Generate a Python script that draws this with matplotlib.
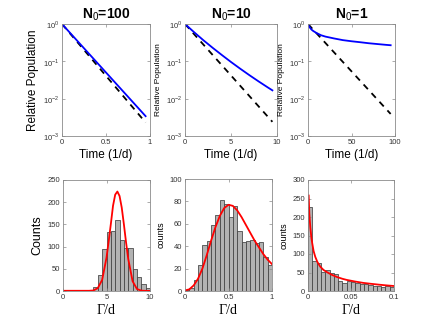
import numpy as np
import matplotlib
matplotlib.use("Agg")
import matplotlib.pyplot as plt

plt.rcParams['font.family'] = ['Liberation Sans', 'DejaVu Sans']
plt.rcParams['mathtext.fontset'] = 'custom'
plt.rcParams['mathtext.rm'] = 'Liberation Sans'
plt.rcParams['mathtext.bf'] = 'Liberation Sans:bold'

# ---------------- data ----------------
titles = ["N$_0$=100", "N$_0$=10", "N$_0$=1"]

# top row: relative population vs time
tl_t_blue = [0, 0.95]
tl_blue = [1.0, 3.4e-3]
tl_t_dash = [0, 0.95]
tl_dash = [1.0, 2.3e-3]

tm_t_blue = [0, 1, 2, 3, 4, 5, 6, 7, 8, 9, 9.5]
tm_blue = [1.0, 0.60, 0.367, 0.231, 0.148, 0.096, 0.0635, 0.0426, 0.029, 0.020, 0.0167]
tm_t_dash = [0, 9.5]
tm_dash = [1.0, 2.4e-3]

tr_t_blue = [0, 1, 2, 4, 6, 10, 15, 20, 30, 40, 50, 60, 70, 80, 90, 95]
tr_blue = [1.0, 0.88, 0.81, 0.71, 0.65, 0.57, 0.50, 0.46, 0.41, 0.37, 0.345, 0.325, 0.305, 0.29, 0.276, 0.27]
tr_t_dash = [0, 95]
tr_dash = [1.0, 3.9e-3]

# bottom row: histograms of decay rates
bl_bin_start = 3.5
bl_bin_width = 0.5
bl_counts = [10, 35, 94, 133, 135, 160, 114, 97, 96, 50, 32, 16, 7]
bl_fit_x = [0, 3.0, 3.5, 4.0, 4.5, 5.0, 5.25, 5.5, 5.75, 6.0, 6.25, 6.5, 6.75, 7.0, 7.25, 7.5, 8.0, 8.5, 9.0, 9.5, 10]
bl_fit_y = [0.5, 0.5, 1.2, 6.5, 25, 75, 112, 151, 192, 217, 224, 214, 188, 150, 109, 72, 22, 4.5, 0.8, 0.3, 0.3]

bm_bin_start = 0.0
bm_bin_width = 0.05
bm_counts = [1, 3, 10, 23, 41, 45, 59, 68, 81, 78, 66, 76, 54, 44, 45, 45.5, 42.5, 44, 30, 23]
bm_fit_x = [0, 0.05, 0.1, 0.15, 0.2, 0.25, 0.3, 0.35, 0.4, 0.45, 0.5, 0.55, 0.6, 0.65, 0.7, 0.75, 0.8, 0.85, 0.9, 0.95, 1.0]
bm_fit_y = [0.5, 1.5, 5, 11, 20, 32, 45, 57, 67, 74, 77, 76, 72, 66, 59, 52, 45, 39, 33, 28, 24]

br_bin_start = 0.0
br_bin_width = 0.005
br_counts = [228, 80, 76, 51, 57, 48, 47, 27, 22, 27, 24, 21, 20, 18, 17, 13, 14, 11, 13, 12]
br_fit_x = [0.0008, 0.0015, 0.0027, 0.004, 0.005, 0.0065, 0.0085, 0.011, 0.0142, 0.018, 0.022, 0.0275, 0.0335, 0.04, 0.045, 0.055, 0.064, 0.073, 0.083, 0.092, 0.1]
br_fit_y = [258, 210, 172, 143, 128, 108, 92, 78, 66, 57, 51, 44, 38, 33, 30, 25.5, 22, 19.5, 17, 15, 13.5]

# ---------------- layout ----------------
W, H = 436, 327
fig = plt.figure(figsize=(W / 100, H / 100), dpi=100)

def px_axes(x0, y0, x1, y1):
    return fig.add_axes([x0 / W, (H - y1) / H, (x1 - x0) / W, (y1 - y0) / H])

spine_col = '#8a8a8a'
tick_col = '#333333'

def style(ax, fs=5.5):
    for s in ax.spines.values():
        s.set_color(spine_col)
        s.set_linewidth(0.6)
    ax.tick_params(direction='in', top=True, right=True, length=2, width=0.5,
                   colors=spine_col, labelcolor=tick_col, labelsize=fs, pad=2)
    ax.tick_params(which='minor', length=0)

top_boxes = [(62, 24, 150, 136), (185, 24, 277, 136), (308, 24, 395, 136)]
bot_boxes = [(63, 180, 150, 291), (185, 179, 272, 291), (308, 180, 394, 291)]

top_data = [
    (tl_t_blue, tl_blue, tl_t_dash, tl_dash, [0, 1], [0, 0.5, 1], ['0', '0.5', '1']),
    (tm_t_blue, tm_blue, tm_t_dash, tm_dash, [0, 10], [0, 5, 10], ['0', '5', '10']),
    (tr_t_blue, tr_blue, tr_t_dash, tr_dash, [0, 100], [0, 50, 100], ['0', '50', '100']),
]

for i, (box, d) in enumerate(zip(top_boxes, top_data)):
    tb, yb, td, yd, xl, xt, xtl = d
    ax = px_axes(*box)
    ax.set_yscale('log')
    ax.plot(td, yd, color='black', lw=1.3, ls=(0, (3.5, 3)))
    ax.plot(tb, yb, color='blue', lw=1.3)
    ax.set_xlim(xl)
    ax.set_ylim(1e-3, 1)
    ax.set_xticks(xt)
    ax.set_xticklabels(xtl)
    ax.set_yticks([1e-3, 1e-2, 1e-1, 1])
    ax.set_yticklabels(['$10^{-3}$', '$10^{-2}$', '$10^{-1}$', '$10^{0}$'])
    style(ax)
    ax.set_title(titles[i], fontsize=10, fontweight='bold', pad=4)
    ax.set_xlabel('Time (1/d)', fontsize=8.5, labelpad=2)
    if i == 0:
        ax.set_ylabel('Relative Population', fontsize=8.5, labelpad=3)
    else:
        ax.set_ylabel('Relative Population', fontsize=6, labelpad=3)

bot_data = [
    (bl_bin_start, bl_bin_width, bl_counts, bl_fit_x, bl_fit_y, [0, 10], [0, 5, 10], ['0', '5', '10'],
     [0, 250], [0, 50, 100, 150, 200, 250], 'Counts'),
    (bm_bin_start, bm_bin_width, bm_counts, bm_fit_x, bm_fit_y, [0, 1], [0, 0.5, 1], ['0', '0.5', '1'],
     [0, 100], [0, 20, 40, 60, 80, 100], 'counts'),
    (br_bin_start, br_bin_width, br_counts, br_fit_x, br_fit_y, [0, 0.1], [0, 0.05, 0.1], ['0', '0.05', '0.1'],
     [0, 300], [0, 50, 100, 150, 200, 250, 300], 'counts'),
]

for i, (box, d) in enumerate(zip(bot_boxes, bot_data)):
    b0, bw, cnt, fx, fy, xl, xt, xtl, yl, yt, ylab = d
    ax = px_axes(*box)
    lefts = [b0 + k * bw for k in range(len(cnt))]
    ax.bar(lefts, cnt, width=bw, align='edge', color='#b2b2b2', edgecolor='#404040', linewidth=0.55)
    ax.plot(fx, fy, color='red', lw=1.3)
    ax.set_xlim(xl)
    ax.set_ylim(yl)
    ax.set_xticks(xt)
    ax.set_xticklabels(xtl)
    ax.set_yticks(yt)
    style(ax)
    ax.set_xlabel('Γ/d', fontsize=10, family=['Liberation Serif', 'DejaVu Serif'], labelpad=2.5)
    if i == 0:
        ax.set_ylabel(ylab, fontsize=9, labelpad=3)
    else:
        ax.set_ylabel(ylab, fontsize=6.5, labelpad=3)

fig.savefig('out.png', dpi=100)
